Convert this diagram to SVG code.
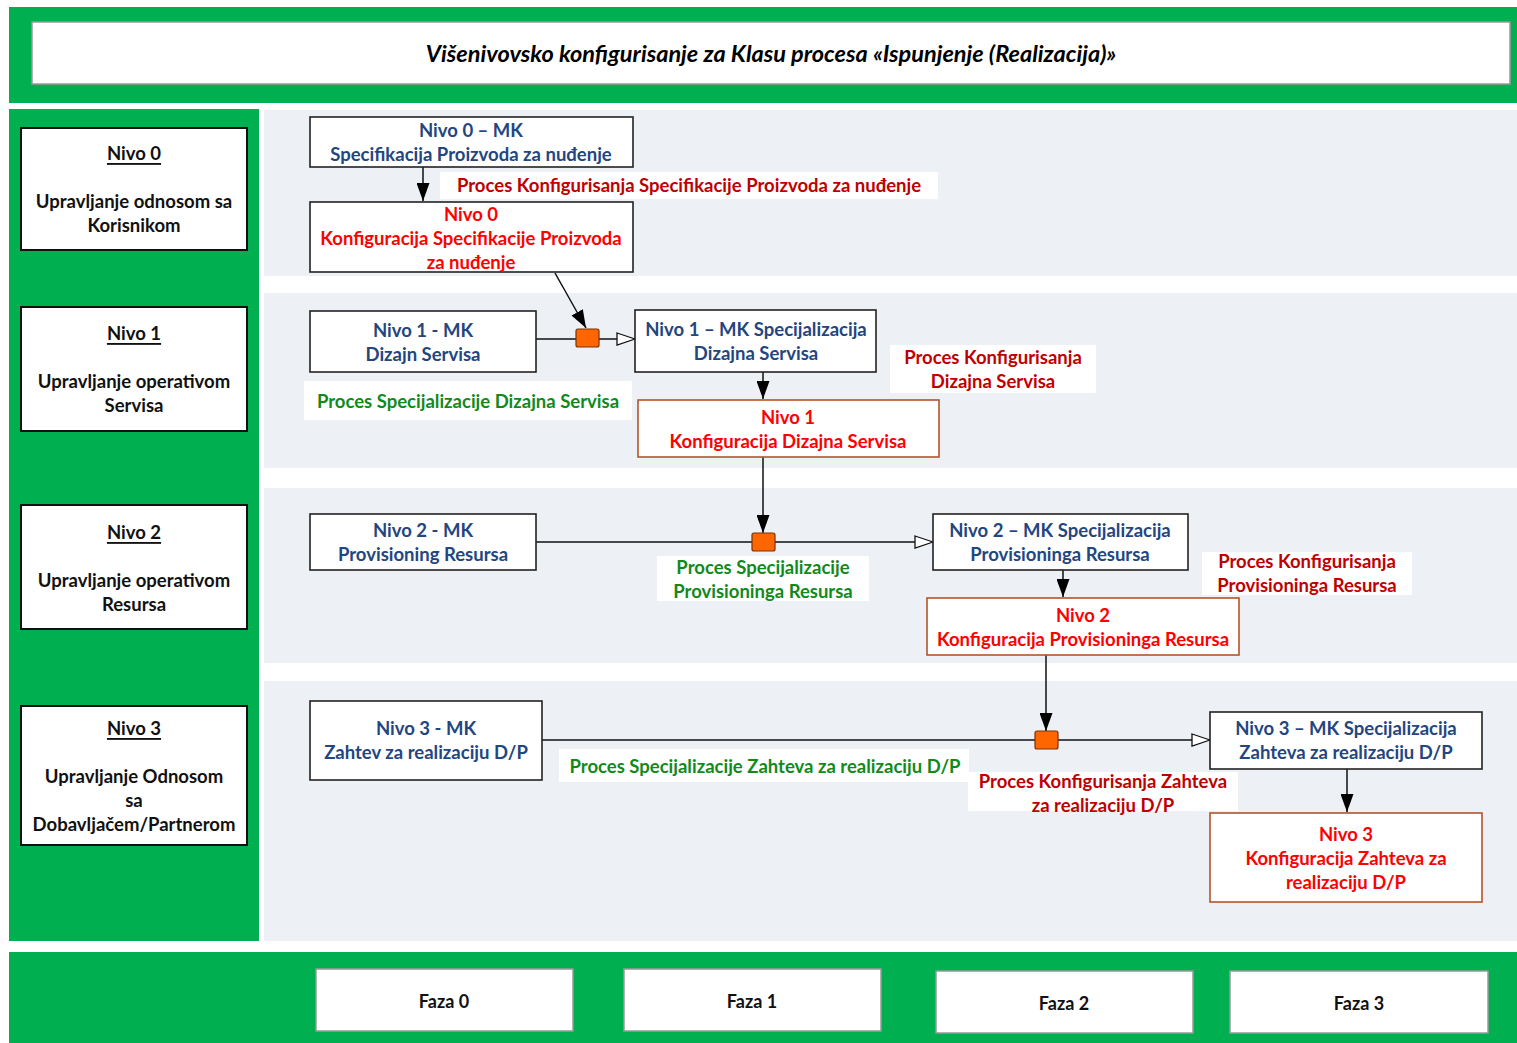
<svg xmlns="http://www.w3.org/2000/svg" width="1517" height="1043" viewBox="0 0 1517 1043">
<defs>
<style>
text{font-family:Lato,"Liberation Sans",sans-serif;font-weight:bold;text-anchor:middle;dominant-baseline:central;font-size:18.5px}
.green{fill:#00AF50}
.lane{fill:#EDF0F5}
.hdr{fill:#fff;stroke:#999;stroke-width:1.5}
.lvl{fill:#fff;stroke:#111;stroke-width:2}
.mk{fill:#fff;stroke:#222;stroke-width:1.6}
.cfg{fill:#fff;stroke:#B5532A;stroke-width:1.6}
.cfg0{fill:#fff;stroke:#222;stroke-width:1.6}
.lblbg{fill:#fff}
.blue{fill:#23467F}
.red{fill:#FF0000}
.dred{fill:#C00000}
.gtx{fill:#118A1C}
.blk{fill:#111}
.ln{stroke:#111;stroke-width:1.5;fill:none}
.sq{fill:#FF6600;stroke:#7a3000;stroke-width:1.2}
</style>
<marker id="af" viewBox="0 0 18 13" refX="18" refY="6.5" markerWidth="18" markerHeight="13" markerUnits="userSpaceOnUse" orient="auto"><path d="M0,0 L18,6.5 L0,13 z" fill="#000"/></marker>
<marker id="ah" viewBox="0 0 20 14" refX="19" refY="7" markerWidth="20" markerHeight="14" markerUnits="userSpaceOnUse" orient="auto"><path d="M1,1 L19,7 L1,13 z" fill="#fff" stroke="#111" stroke-width="1.3"/></marker>
</defs>
<rect width="1517" height="1043" fill="#fff"/>
<rect class="green" x="9" y="7" width="1508" height="96"/>
<rect class="hdr" x="32" y="22" width="1478" height="62"/>
<text x="771" y="53" style="font-style:italic;font-size:23.5px;fill:#000">Višenivovsko konfigurisanje za Klasu procesa «Ispunjenje (Realizacija)»</text>
<rect class="green" x="9" y="109" width="250" height="832"/>
<rect class="lane" x="264" y="110" width="1253" height="166"/>
<rect class="lane" x="264" y="293" width="1253" height="175"/>
<rect class="lane" x="264" y="488" width="1253" height="175"/>
<rect class="lane" x="264" y="681" width="1253" height="260"/>
<rect class="green" x="9" y="952" width="1508" height="91"/>

<g id="lvl0"><rect class="lvl" x="21" y="128" width="226" height="122"/>
<text class="blk" x="134" y="153" text-decoration="underline">Nivo 0</text>
<text class="blk" x="134" y="201">Upravljanje odnosom sa</text>
<text class="blk" x="134" y="225">Korisnikom</text></g>
<g id="lvl1"><rect class="lvl" x="21" y="307" width="226" height="124"/>
<text class="blk" x="134" y="333" text-decoration="underline">Nivo 1</text>
<text class="blk" x="134" y="381">Upravljanje operativom</text>
<text class="blk" x="134" y="405">Servisa</text></g>
<g id="lvl2"><rect class="lvl" x="21" y="505" width="226" height="124"/>
<text class="blk" x="134" y="532" text-decoration="underline">Nivo 2</text>
<text class="blk" x="134" y="580">Upravljanje operativom</text>
<text class="blk" x="134" y="604">Resursa</text></g>
<g id="lvl3"><rect class="lvl" x="21" y="706" width="226" height="139"/>
<text class="blk" x="134" y="728" text-decoration="underline">Nivo 3</text>
<text class="blk" x="134" y="776">Upravljanje Odnosom</text>
<text class="blk" x="134" y="800">sa</text>
<text class="blk" x="134" y="824">Dobavljačem/Partnerom</text></g>

<g id="faza0"><rect class="hdr" x="316" y="969" width="257" height="62"/><text class="blk" x="444" y="1001" style="font-size:18px">Faza 0</text></g>
<g id="faza1"><rect class="hdr" x="624" y="969" width="257" height="62"/><text class="blk" x="752" y="1001" style="font-size:18px">Faza 1</text></g>
<g id="faza2"><rect class="hdr" x="936" y="971" width="257" height="62"/><text class="blk" x="1064" y="1003" style="font-size:18px">Faza 2</text></g>
<g id="faza3"><rect class="hdr" x="1230" y="971" width="258" height="62"/><text class="blk" x="1359" y="1003" style="font-size:18px">Faza 3</text></g>

<g id="connectors">
<line class="ln" x1="423" y1="167" x2="423" y2="201" marker-end="url(#af)"/>
<line class="ln" x1="555" y1="273" x2="586" y2="328" marker-end="url(#af)"/>
<line class="ln" x1="536" y1="339" x2="635" y2="339" marker-end="url(#ah)"/>
<rect class="sq" x="576" y="329" width="23" height="18" rx="2"/>
<line class="ln" x1="763" y1="372" x2="763" y2="399" marker-end="url(#af)"/>
<line class="ln" x1="763" y1="457" x2="763" y2="533" marker-end="url(#af)"/>
<line class="ln" x1="536" y1="542" x2="933" y2="542" marker-end="url(#ah)"/>
<rect class="sq" x="752" y="533" width="23" height="18" rx="2"/>
<line class="ln" x1="1063" y1="570" x2="1063" y2="597" marker-end="url(#af)"/>
<line class="ln" x1="1046" y1="655" x2="1046" y2="731" marker-end="url(#af)"/>
<line class="ln" x1="542" y1="740" x2="1210" y2="740" marker-end="url(#ah)"/>
<rect class="sq" x="1035" y="731" width="23" height="18" rx="2"/>
<line class="ln" x1="1347" y1="769" x2="1347" y2="812" marker-end="url(#af)"/>
</g>

<g id="lab0"><rect class="lblbg" x="440" y="172" width="498" height="27"/><text class="dred" x="689" y="185">Proces Konfigurisanja Specifikacije Proizvoda za nuđenje</text></g>
<g id="lab1g"><rect class="lblbg" x="304" y="381" width="328" height="39"/><text class="gtx" x="468" y="401">Proces Specijalizacije Dizajna Servisa</text></g>
<g id="lab1r"><rect class="lblbg" x="890" y="345" width="206" height="48"/><text class="dred" x="993" y="357">Proces Konfigurisanja</text><text class="dred" x="993" y="381">Dizajna Servisa</text></g>
<g id="lab2g"><rect class="lblbg" x="657" y="556" width="212" height="45"/><text class="gtx" x="763" y="567">Proces Specijalizacije</text><text class="gtx" x="763" y="591">Provisioninga Resursa</text></g>
<g id="lab2r"><rect class="lblbg" x="1202" y="552" width="210" height="43"/><text class="dred" x="1307" y="561">Proces Konfigurisanja</text><text class="dred" x="1307" y="585">Provisioninga Resursa</text></g>
<g id="lab3g"><rect class="lblbg" x="559" y="749" width="410" height="33"/><text class="gtx" x="765" y="766">Proces Specijalizacije Zahteva za realizaciju D/P</text></g>
<g id="lab3r"><rect class="lblbg" x="968" y="772" width="270" height="39"/><text class="dred" x="1103" y="781">Proces Konfigurisanja Zahteva</text><text class="dred" x="1103" y="805">za realizaciju D/P</text></g>

<g id="n0mk"><rect class="mk" x="310" y="117" width="323" height="50"/><text class="blue" x="471" y="130">Nivo 0 – MK</text><text class="blue" x="471" y="154">Specifikacija Proizvoda za nuđenje</text></g>
<g id="n0cfg"><rect class="cfg0" x="310" y="202" width="323" height="70"/><text class="red" x="471" y="214">Nivo 0</text><text class="red" x="471" y="238">Konfiguracija Specifikacije Proizvoda</text><text class="red" x="471" y="262">za nuđenje</text></g>
<g id="n1mk"><rect class="mk" x="310" y="311" width="226" height="61"/><text class="blue" x="423" y="330">Nivo 1 - MK</text><text class="blue" x="423" y="354">Dizajn Servisa</text></g>
<g id="n1spec"><rect class="mk" x="635" y="310" width="241" height="62"/><text class="blue" x="756" y="329">Nivo 1 – MK Specijalizacija</text><text class="blue" x="756" y="353">Dizajna Servisa</text></g>
<g id="n1cfg"><rect class="cfg" x="638" y="400" width="301" height="57"/><text class="red" x="788" y="417">Nivo 1</text><text class="red" x="788" y="441">Konfiguracija Dizajna Servisa</text></g>
<g id="n2mk"><rect class="mk" x="310" y="514" width="226" height="56"/><text class="blue" x="423" y="530">Nivo 2 - MK</text><text class="blue" x="423" y="554">Provisioning Resursa</text></g>
<g id="n2spec"><rect class="mk" x="933" y="514" width="255" height="56"/><text class="blue" x="1060" y="530">Nivo 2 – MK Specijalizacija</text><text class="blue" x="1060" y="554">Provisioninga Resursa</text></g>
<g id="n2cfg"><rect class="cfg" x="927" y="598" width="312" height="57"/><text class="red" x="1083" y="615">Nivo 2</text><text class="red" x="1083" y="639">Konfiguracija Provisioninga Resursa</text></g>
<g id="n3mk"><rect class="mk" x="310" y="701" width="232" height="79"/><text class="blue" x="426" y="728">Nivo 3 - MK</text><text class="blue" x="426" y="752">Zahtev za realizaciju D/P</text></g>
<g id="n3spec"><rect class="mk" x="1210" y="712" width="272" height="57"/><text class="blue" x="1346" y="728">Nivo 3 – MK Specijalizacija</text><text class="blue" x="1346" y="752">Zahteva za realizaciju D/P</text></g>
<g id="n3cfg"><rect class="cfg" x="1210" y="813" width="272" height="89"/><text class="red" x="1346" y="834">Nivo 3</text><text class="red" x="1346" y="858">Konfiguracija Zahteva za</text><text class="red" x="1346" y="882">realizaciju D/P</text></g>
</svg>
